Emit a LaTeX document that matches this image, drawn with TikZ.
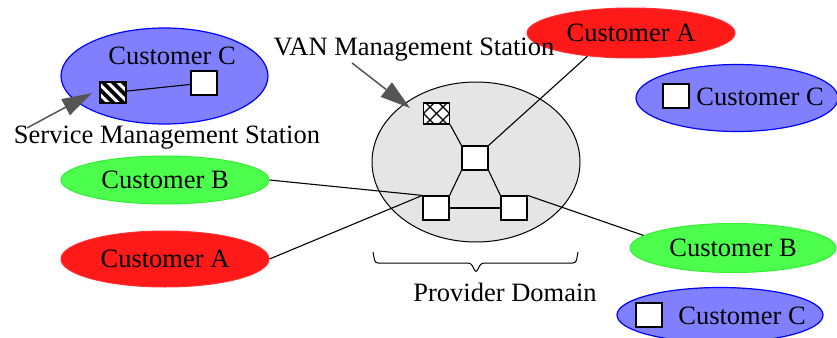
\documentclass[tikz,border=0pt]{standalone}
\usepackage{fontspec}
\setmainfont{Liberation Serif}
\usetikzlibrary{shapes.geometric, arrows.meta}

\definecolor{custCfill}{HTML}{8080FF}
\definecolor{custCline}{HTML}{0000FF}
\definecolor{custBfill}{HTML}{4DFF4D}
\definecolor{custBline}{HTML}{33EE33}
\definecolor{custAfill}{HTML}{FF1A1A}
\definecolor{custAline}{HTML}{FF3030}
\definecolor{domainfill}{HTML}{E5E5E5}
\definecolor{pointergray}{HTML}{555555}

\begin{document}
\begin{tikzpicture}
		[
			x=1pt, y=-1pt,
			every node/.style={font=\fontsize{26.5}{30}\selectfont},
			custA/.style={ellipse, draw=custAline, fill=custAfill, line width=1pt, inner sep=0pt},
			custB/.style={ellipse, draw=custBline, fill=custBfill, line width=1pt, inner sep=0pt},
			custC/.style={ellipse, draw=custCline, fill=custCfill, line width=1.2pt, inner sep=0pt},
			provcloud/.style={ellipse, draw, fill=domainfill, line width=1pt, inner sep=0pt},
			station/.style={draw, fill=white, line width=1.2pt, minimum width=26pt, minimum height=24pt, inner sep=0pt},
			smsstation/.style={station, minimum height=21pt,
				path picture={
					\foreach \k in {-20,-10,...,20}
						\draw[line width=3.6pt] ([xshift=\k pt]path picture bounding box.center) ++(-20pt,20pt) -- ++(40pt,-40pt);
				}},
			vanstation/.style={station, minimum height=21pt,
				path picture={
					\foreach \k in {-13,0,13}
					{
						\draw[line width=1.3pt] ([xshift=\k pt]path picture bounding box.center) ++(-20pt,20pt) -- ++(40pt,-40pt);
						\draw[line width=1.3pt] ([xshift=\k pt]path picture bounding box.center) ++(-20pt,-20pt) -- ++(40pt,40pt);
					}
				}},
			link/.style={line width=1.1pt},
			pointer/.style={line width=1.5pt, draw=pointergray, -{Triangle[length=30pt, width=18pt]}},
		]
		\useasboundingbox (0,0) rectangle (837,337);

		% Domains
		\foreach \style/\name/\x/\y/\w/\h/\txt in
		{
			custC/custCL/164.5/76/207/96/{},
			custB/custBL/165/180/208/48/{Customer B},
			custA/custAL/165/259/208/56/{Customer A},
			provcloud/provider/476/162/208/160/{},
			custA/custAT/631/33/208/50/{Customer A},
			custC/custCR/737/98/202/67/{},
			custB/custBR/733/248/206/49/{Customer B},
			custC/custCB/720/315/206/55/{}
		}
			\node[\style, minimum width=\w pt, minimum height=\h pt] (\name) at (\x,\y) {\txt};

		% Stations
		\foreach \style/\name/\x/\y in
		{
			station/cBoxL/204/83,
			smsstation/smsBox/113/92.5,
			vanstation/vanBox/436.5/113.5,
			station/hubT/475/158,
			station/hubL/436/208,
			station/hubR/514/208,
			station/cBoxR/676/96,
			station/cBoxB/649/315
		}
			\node[\style] (\name) at (\x,\y) {};

		% Labels
		\node (lblCL) at (172,56) {Customer C};
		\node (lblCR) at (760,97) {Customer C};
		\node (lblCB) at (742,316) {Customer C};
		\node (lblSMS) at (167,138) {Service Management Station};
		\node (lblVAN) at (414,50) {VAN Management Station};
		\node (lblDomain) at (505,292) {Provider Domain};

		% Links
		\foreach \u/\v in
		{
			smsBox/cBoxL,
			vanBox.south east/hubT.north west,
			hubT.north east/custAT.208,
			hubT.south west/hubL.north east,
			hubT.south east/hubR.north west,
			hubL/hubR,
			custBL.east/hubL.north west,
			custAL.east/hubL.north west,
			hubR.north east/custBR.172}
			\draw[link] (\u) -- (\v);

		% Pointers
		\coordinate (smsTail) at (27,128);
		\coordinate (smsTip) at (92,93);
		\coordinate (vanTail) at (352,63);
		\coordinate (vanTip) at (410,108);
		\draw[pointer] (smsTail) -- (smsTip);
		\draw[pointer] (vanTail) -- (vanTip);

		% Brace
		\draw[line width=1pt, rounded corners=3pt] (373,252) -- (375,263) -- (471,263) -- (476,273) -- (481,263) -- (576,263) -- (578,252);

		\end{tikzpicture}
\end{document}
